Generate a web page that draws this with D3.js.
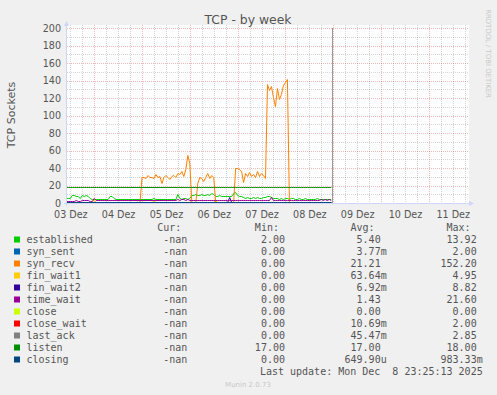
<!DOCTYPE html>
<html>
<head>
<meta charset="utf-8">
<script src="https://cdn.jsdelivr.net/npm/d3@7"></script>
<style>
  body { margin: 0; background: #F0F0F0; }
  svg { display: block; }
  text { font-family: "DejaVu Sans", sans-serif; fill: #555; }
  .mono { font-family: "DejaVu Sans Mono", monospace; }
</style>
</head>
<body>
<script>
/* samples: one per hour, first one at Dec 3 10:00 UTC */
var sampleStart = Date.UTC(2025, 11, 3, 10, 0);
var sampleStep = 3600 * 1000;
var viewStart = Date.UTC(2025, 11, 3, 10, 20);
var viewEnd = Date.UTC(2025, 11, 11, 19, 40);
var lastUpdate = Date.UTC(2025, 11, 8, 23, 25, 13);

var dayLabels = ["03 Dez", "04 Dez", "05 Dez", "06 Dez", "07 Dez", "08 Dez", "09 Dez", "10 Dez", "11 Dez"];
var yTicks = [0, 20, 40, 60, 80, 100, 120, 140, 160, 180, 200];

var established = [5,5,5,8,8,7,7,5,8,7,8,7,5,
  4,4,3,4,3,4,3,4,4,7,7,5,4,
  4,3,4,4,3,4,4,4,3,4,4,4,
  4,4,4,3,4,4,5,4,4,3,4,
  4,4,4,3,4,4,4,
  9,5,4,5,5,4,5,8,8,9,8,
  8,9,8,8,9,8,10,9,
  7,7,8,7,7,7,7,7,7,
  10,11,8,7,7,
  6,5,6,5,5,6,5,6,5,5,6,
  6,7,7,6,5,
  5,5,4,5,4,5,5,4,5,5,4,4,5,4,4,5,4,4,3,4,4,5,4,4,3,4,4,3,4];

var synRecv = [0,0,0,0,0,0,0,0,0,0,0,0,0,0,0,0,0,0,0,0,0,0,0,0,0,0,0,0,0,0,0,0,0,0,0,0,0,0,
  28,29,27,31,28,29,27,32,28,30,22,29,31,28,26,30,31,29,33,32,35,30,38,54,45,
  0,0,0,
  22,28,27,24,29,33,27,31,28,
  0,0,0,0,0,0,0,0,0,0,
  39,39,38,36,23,33,30,34,30,32,29,36,30,33,31,27,
  135,128,133,120,110,130,118,124,134,137,141,
  0,0,0,0,0,0,0,0,0,0,0,0,0,0,0,0,0,0,0,0,0,0];

var timeWait = [1,1,1,1,1,2,1,1,2,2,2,2,1,1,
  5,2,
  2,2,2,2,2,2,2,2,2,2,2,2,2,2,2,2,2,2,2,2,2,2,
  2,2,2,2,2,2,2,2,2,2,2,2,2,2,2,2,2,2,
  3,2,3,3,2,3,2,
  2,2,2,2,2,2,2,2,2,2,2,2,2,2,2,2,2,2,2,
  2,
  2,2,2,2,2,2,2,2,2,2,2,2,2,2,2,2,2,2,2,2,
  6,
  2,2,2,2,2,2,2,2,2,2,2,2,2,2,2,2,2,2,2,2,2,2,2,2,3,2,3,2,3,2];

var listen = [17,17,17,17,17,17,17,17,17,17,17,17,17,17,17,17,17,17,17,17,
  17,17,17,17,17,17,17,17,17,17,17,17,17,17,17,17,17,17,17,17,
  17,17,17,17,17,17,17,17,17,17,17,17,17,17,17,17,17,17,17,17,
  17,17,17,17,17,17,17,17,17,17,17,17,17,17,17,17,17,17,17,17,
  17,17,17,17,17,17,17,17,17,17,17,17,17,17,17,17,17,17,17,17,
  17,17,17,17,17,17,17,17,17,17,17,17,17,17,17,17,17,17,17,17,
  17,17,17,17,17,17,17,17,17,17,17,17,17,17];

// mostly-zero series, given as [sample index, value] peaks
var synSentPeaks = [];
var finWait1Peaks = [[14, 3], [44, 1], [75, 2]];
var finWait2Peaks = [[82, 6]];
var closePeaks = [];
var closeWaitPeaks = [];
var lastAckPeaks = [];
var closingPeaks = [];

var names = ["established", "syn_sent", "syn_recv", "fin_wait1", "fin_wait2", "time_wait", "close", "close_wait", "last_ack", "listen", "closing"];
var colors = ["#00CC00", "#0066B3", "#FF8000", "#FFCC00", "#330099", "#990099", "#CCFF00", "#FF0000", "#808080", "#008F00", "#00487D"];
var curVals = ["-nan", "-nan", "-nan", "-nan", "-nan", "-nan", "-nan", "-nan", "-nan", "-nan", "-nan"];
var minVals = ["2.00", "0.00", "0.00", "0.00", "0.00", "0.00", "0.00", "0.00", "0.00", "17.00", "0.00"];
var avgVals = ["5.40", "3.77m", "21.21", "63.64m", "6.92m", "1.43", "0.00", "10.69m", "45.47m", "17.00", "649.90u"];
var maxVals = ["13.92", "2.00", "152.20", "4.95", "8.82", "21.60", "0.00", "2.00", "2.85", "18.00", "983.33m"];

function fromPeaks(peaks){
  var m = new Map(peaks);
  return established.map(function(d, i){ return m.has(i) ? m.get(i) : 0; });
}

var series = [established, fromPeaks(synSentPeaks), synRecv, fromPeaks(finWait1Peaks), fromPeaks(finWait2Peaks),
  timeWait, fromPeaks(closePeaks), fromPeaks(closeWaitPeaks), fromPeaks(lastAckPeaks), listen, fromPeaks(closingPeaks)];

/*dimensions*/
var W = 497, H = 395;
var plot = {left: 67, right: 468, top: 28, bottom: 203};

var x = d3.scaleUtc().domain([viewStart, viewEnd]).range([plot.left, plot.right]);
var y = d3.scaleLinear().domain([0, 200]).range([plot.bottom, plot.top]);

var svg = d3.select("body").append("svg")
  .attr("width", W)
  .attr("height", H);

svg.append("rect").attr("width", W).attr("height", H).attr("fill", "#F0F0F0");
svg.append("rect")
  .attr("x", plot.left).attr("y", plot.top - 3)
  .attr("width", plot.right - plot.left + 1).attr("height", plot.bottom - plot.top + 3)
  .attr("fill", "#fff");

svg.append("defs").append("clipPath").attr("id", "clipBox")
  .append("rect")
  .attr("x", plot.left).attr("y", plot.top - 2)
  .attr("width", plot.right - plot.left).attr("height", plot.bottom - plot.top + 3);

/* grid */
var majorColor = "rgba(200,0,0,0.27)";
var minorColor = "rgba(128,128,128,0.33)";
var grid = svg.append("g").attr("stroke-dasharray", "1,1").attr("stroke-width", 1);
var hours6 = x.ticks(d3.utcHour.every(6));
grid.selectAll(".vgrid").data(hours6).enter().append("line")
  .attr("x1", function(d){ return Math.round(x(d)) + 0.5; })
  .attr("x2", function(d){ return Math.round(x(d)) + 0.5; })
  .attr("y1", plot.top - 3).attr("y2", plot.bottom)
  .attr("stroke", function(d){ return d.getUTCHours() === 0 ? majorColor : minorColor; });
grid.selectAll(".hgrid").data(y.ticks(20).filter(function(v){ return v > 0; })).enter().append("line")
  .attr("x1", plot.left).attr("x2", plot.right)
  .attr("y1", function(d){ return Math.round(y(d)) + 0.5; })
  .attr("y2", function(d){ return Math.round(y(d)) + 0.5; })
  .attr("stroke", function(d){ return d % 20 === 0 ? majorColor : minorColor; });

/* lines */
var line = d3.line()
  .x(function(d, i){ return x(sampleStart + i * sampleStep); })
  .y(function(d){ return Math.round(y(d)) - 0.5; });

var g = svg.append("g").attr("clip-path", "url(#clipBox)");
series.forEach(function(s, k){
  g.append("path")
    .datum(s)
    .attr("d", line)
    .attr("fill", "none")
    .attr("stroke", colors[k])
    .attr("stroke-width", 1);
});

/* "now" rule */
svg.append("line")
  .attr("x1", Math.round(x(lastUpdate)) + 0.5).attr("x2", Math.round(x(lastUpdate)) + 0.5)
  .attr("y1", plot.top).attr("y2", plot.bottom)
  .attr("stroke", "#999");

/* axes */
var axisColor = "#CFD6F8";
svg.append("line").attr("x1", plot.left - 0.5).attr("x2", plot.left - 0.5)
  .attr("y1", plot.bottom + 3).attr("y2", plot.top - 5).attr("stroke", axisColor);
svg.append("line").attr("x1", plot.left - 3).attr("x2", plot.right + 3)
  .attr("y1", plot.bottom + 0.5).attr("y2", plot.bottom + 0.5).attr("stroke", axisColor);
svg.append("path").attr("fill", axisColor)
  .attr("d", "M" + (plot.left - 3) + "," + (plot.top - 2) + "L" + (plot.left + 2) + "," + (plot.top - 2) + "L" + (plot.left - 0.5) + "," + (plot.top - 7) + "Z");
svg.append("path").attr("fill", axisColor)
  .attr("d", "M" + (plot.right + 1) + "," + (plot.bottom - 2) + "L" + (plot.right + 1) + "," + (plot.bottom + 3) + "L" + (plot.right + 6) + "," + (plot.bottom + 0.5) + "Z");

var yAxis = d3.axisLeft(y).tickValues(yTicks).tickSize(0).tickPadding(5);
var yg = svg.append("g")
  .attr("transform", "translate(" + (plot.left - 1) + ",0)")
  .call(yAxis);
yg.select(".domain").remove();
yg.selectAll("text").style("font-family", "DejaVu Sans").style("font-size", "9.6px").attr("fill", "#555");

var noons = dayLabels.map(function(l, i){ return Date.UTC(2025, 11, 3 + i, 12); });
var xAxis = d3.axisBottom(x).tickValues(noons).tickSize(0).tickPadding(8)
  .tickFormat(function(d, i){ return dayLabels[i]; });
var xg = svg.append("g")
  .attr("transform", "translate(0," + plot.bottom + ")")
  .call(xAxis);
xg.select(".domain").remove();
xg.selectAll("text").style("font-family", "DejaVu Sans").style("font-size", "9.6px").attr("fill", "#555");

/* labels */
svg.append("text")
  .text("TCP - by week")
  .attr("x", 248).attr("y", 24)
  .attr("text-anchor", "middle")
  .style("font-size", "12.4px");

svg.append("text")
  .text("TCP Sockets")
  .attr("transform", "translate(15,115) rotate(-90)")
  .attr("text-anchor", "middle")
  .style("font-size", "11px");

svg.append("text")
  .text("RRDTOOL / TOBI OETIKER")
  .attr("transform", "translate(486,53.5) rotate(90)")
  .attr("text-anchor", "middle")
  .style("font-size", "6.9px")
  .style("fill", "#c8c8c8");

/* legend */
var charW = 6.02;
var colEnds = [193.3, 291, 386.7, 482.7];
var headers = ["Cur:", "Min:", "Avg:", "Max:"];
var legend = svg.append("g").attr("class", "mono").style("font-size", "10px");

headers.forEach(function(h, c){
  legend.append("text").attr("class", "mono")
    .text(h)
    .attr("x", colEnds[c] - 2 * charW)
    .attr("y", 231)
    .attr("text-anchor", "end");
});

names.forEach(function(name, k){
  var by = 243 + 12 * k;
  legend.append("rect")
    .attr("x", 14).attr("y", by - 6.5)
    .attr("width", 6).attr("height", 6)
    .attr("fill", colors[k]);
  legend.append("text").attr("class", "mono")
    .text(name)
    .attr("x", 26.5).attr("y", by);
  [curVals[k], minVals[k], avgVals[k], maxVals[k]].forEach(function(v, c){
    var hasUnit = /[a-z]$/.test(v) && v !== "-nan";
    legend.append("text").attr("class", "mono")
      .text(v)
      .attr("x", hasUnit ? colEnds[c] : colEnds[c] - charW)
      .attr("y", by)
      .attr("text-anchor", "end");
  });
});

legend.append("text").attr("class", "mono")
  .text("Last update: Mon Dec  8 23:25:13 2025")
  .attr("xml:space", "preserve")
  .style("white-space", "pre")
  .attr("x", 482.7).attr("y", 375)
  .attr("text-anchor", "end");

svg.append("text")
  .text("Munin 2.0.73")
  .attr("x", 248).attr("y", 387)
  .attr("text-anchor", "middle")
  .style("font-size", "7px")
  .style("fill", "#c8c8c8");
</script>
</body>
</html>
